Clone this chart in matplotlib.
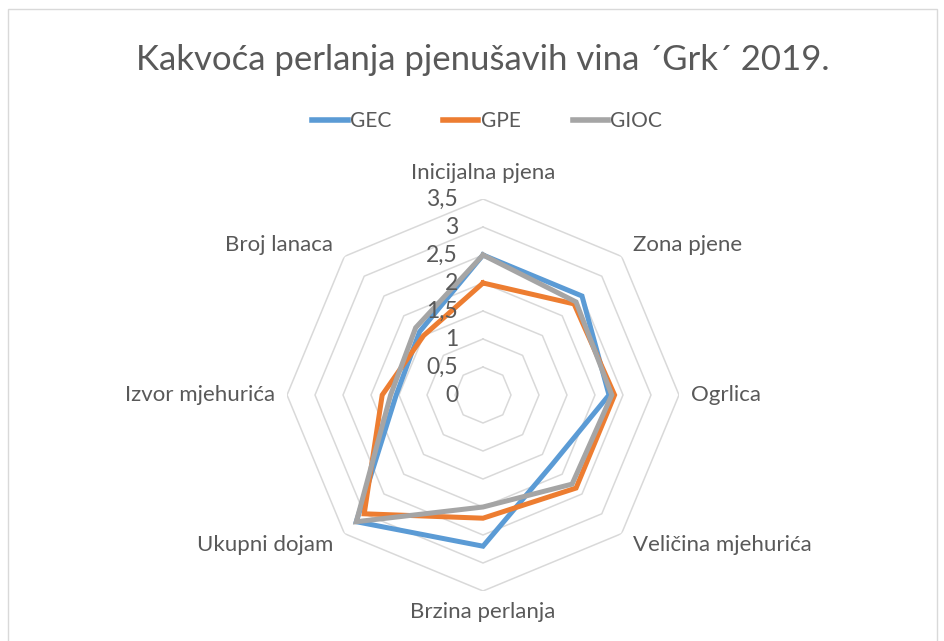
import numpy as np
import matplotlib
matplotlib.use("Agg")
import matplotlib.pyplot as plt
from matplotlib.patches import Rectangle
from matplotlib.lines import Line2D

plt.rcParams['font.family'] = ['Lato', 'DejaVu Sans']

# Data ##############################################################################

categories = ['Inicijalna pjena', 'Zona pjene', 'Ogrlica', 'Veličina mjehurića',
              'Brzina perlanja', 'Ukupni dojam', 'Izvor mjehurića', 'Broj lanaca']
gec = [2.5, 2.5, 2.25, 1.75, 2.7, 3.2, 1.55, 1.6]
gpe = [2.0, 2.3, 2.35, 2.35, 2.2, 3.0, 1.8, 1.5]
gioc = [2.5, 2.35, 2.3, 2.25, 2.0, 3.2, 1.65, 1.7]
series_names = ['GEC', 'GPE', 'GIOC']
colors = ['#5B9BD5', '#ED7D31', '#A5A5A5']
levels = [0, 0.5, 1, 1.5, 2, 2.5, 3, 3.5]
level_labels = ['0', '0,5', '1', '1,5', '2', '2,5', '3', '3,5']

# Figure ############################################################################

W, H = 944, 641
fig = plt.figure(figsize=(W / 100, H / 100), dpi=100)
fig.patches.append(Rectangle((8 / W, -0.01), (937 - 8) / W, (H - 9) / H + 0.01,
                             transform=fig.transFigure, fill=False,
                             edgecolor='#D9D9D9', linewidth=1))

cx, cy, R = 483, 395, 196
ax = fig.add_axes([(cx - R) / W, (H - cy - R) / H, 2 * R / W, 2 * R / H],
                  projection='polar')
ax.set_theta_zero_location('N')
ax.set_theta_direction(-1)
ax.set_ylim(0, 3.5)
ax.set_xticks([])
ax.set_yticks([])
ax.grid(False)
ax.spines['polar'].set_visible(False)
ax.patch.set_alpha(0)

n = len(categories)
angles = np.linspace(0, 2 * np.pi, n, endpoint=False)
closed = np.append(angles, angles[0])

# octagon rings
for lv in levels[1:]:
    ax.plot(closed, [lv] * (n + 1), color='#D9D9D9', linewidth=1.1, zorder=1)

# series
for name, vals, col in zip(series_names, [gec, gpe, gioc], colors):
    ax.plot(closed, vals + vals[:1], color=col, linewidth=3.6,
            solid_joinstyle='miter', zorder=3, label=name)

# value labels along top axis
for lv, lab in zip(levels, level_labels):
    ax.annotate(lab, xy=(0, lv), xytext=(-25, 0), textcoords='offset pixels',
                ha='right', va='center', fontsize=16.5, color='#595959')

# category labels
for ang, cat in zip(angles, categories):
    deg = np.degrees(ang)
    if np.isclose(deg, 0):
        ax.text(ang, 3.78, cat, ha='center', va='bottom', fontsize=16, color='#595959')
    elif np.isclose(deg, 180):
        ax.text(ang, 3.7, cat, ha='center', va='top', fontsize=16, color='#595959')
    else:
        ha = 'left' if deg < 180 else 'right'
        r = 3.72 if np.isclose(deg % 90, 0) else 3.78
        ax.text(ang, r, cat, ha=ha, va='center', fontsize=16, color='#595959')

fig.text(cx / W, 1 - 60 / H, 'Kakvoća perlanja pjenušavih vina \u00b4Grk\u00b4 2019.',
         ha='center', va='center', fontsize=25, color='#595959')

handles = [Line2D([], [], color=c, linewidth=4) for c in colors]
fig.legend(handles, series_names, loc='center', bbox_to_anchor=(487 / W, 1 - 121 / H),
           ncol=3, frameon=False, fontsize=15, handlelength=1.7,
           handletextpad=0.1, columnspacing=2.5, labelcolor='#595959')

fig.savefig('out.png', dpi=100)
